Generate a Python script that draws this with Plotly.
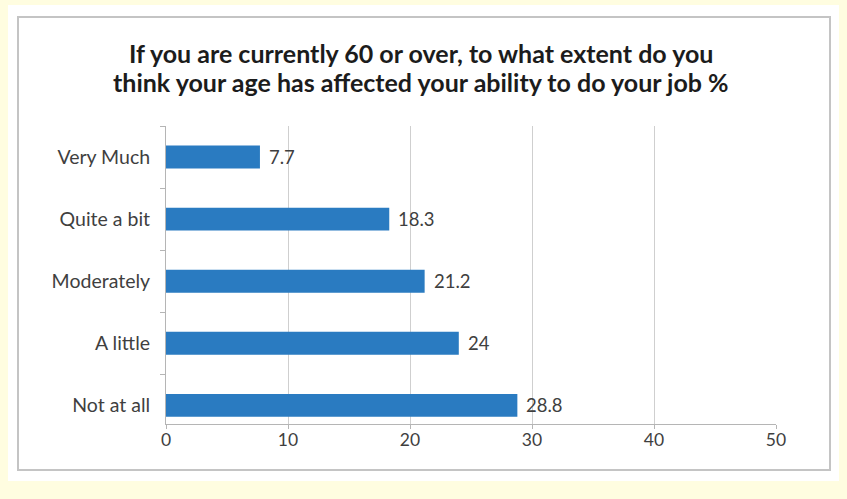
import plotly.graph_objects as go

categories = ["Not at all", "A little", "Moderately", "Quite a bit", "Very Much"]
values = [28.8, 24, 21.2, 18.3, 7.7]
value_labels = ["28.8", "24", "21.2", "18.3", "7.7"]
x_ticks = [0, 10, 20, 30, 40, 50]
title_lines = ["If you are currently 60 or over, to what extent do you",
               "think your age has affected your ability to do your job %"]

W, H = 847, 499
L, R, T, B = 166, 71, 126, 75
pw, ph = W - L - R, H - T - B

def px(x):
    return (x - L) / pw

def py(y):
    return (H - B - y) / ph

FONT = "Lato, sans-serif"
TXT = "#3f3f3f"

fig = go.Figure(go.Bar(
    x=values, y=categories, orientation="h",
    marker=dict(color="#2a7bc1", line=dict(width=0)),
    width=0.37, hoverinfo="skip",
))

annotations = []
for v, c, t in zip(values, categories, value_labels):
    annotations.append(dict(x=v, y=c, xref="x", yref="y", text=t, showarrow=False,
                            xanchor="left", yanchor="middle", xshift=7,
                            font=dict(family=FONT, size=18.5, color=TXT)))
for i, line in enumerate(title_lines):
    annotations.append(dict(x=px(421), y=py(53 + 29 * i), xref="paper", yref="paper",
                            text="<b>" + line + "</b>", showarrow=False,
                            xanchor="center", yanchor="middle",
                            font=dict(family=FONT, size=25, color="#1c1c1c")))

fig.update_layout(
    width=W, height=H,
    margin=dict(l=L, r=R, t=T, b=B),
    paper_bgcolor="#fffde0",
    plot_bgcolor="rgba(0,0,0,0)",
    showlegend=False,
    annotations=annotations,
    xaxis=dict(
        range=[0, 50], tickvals=x_ticks, showgrid=True, gridcolor="#cfcfcf", gridwidth=1,
        showline=True, linecolor="#b5b5b5", ticks="outside", ticklen=4, tickcolor="#b5b5b5",
        tickfont=dict(family=FONT, size=17.5, color=TXT), ticklabelstandoff=-4,
        zeroline=False, fixedrange=True, automargin=False,
    ),
    yaxis=dict(
        range=[-0.3, 4.5],
        showline=True, linecolor="#b5b5b5", ticks="outside", ticklen=5, tickcolor="#b5b5b5",
        tickson="boundaries", showgrid=False,
        tickfont=dict(family=FONT, size=19.5, color=TXT),
        ticklabelstandoff=11, fixedrange=True, automargin=False,
    ),
    shapes=[
        dict(type="rect", xref="paper", yref="paper", x0=px(8), x1=px(839), y0=py(481), y1=py(5),
             fillcolor="white", line=dict(width=0), layer="below"),
        dict(type="rect", xref="paper", yref="paper", x0=px(18), x1=px(830), y0=py(470), y1=py(17),
             fillcolor="rgba(0,0,0,0)", line=dict(color="#c4c4c4", width=2), layer="below"),
    ],
)

fig.write_html("out.html", config={"displayModeBar": False},
               post_script="document.body.style.margin='0';document.body.style.overflow='hidden';")
